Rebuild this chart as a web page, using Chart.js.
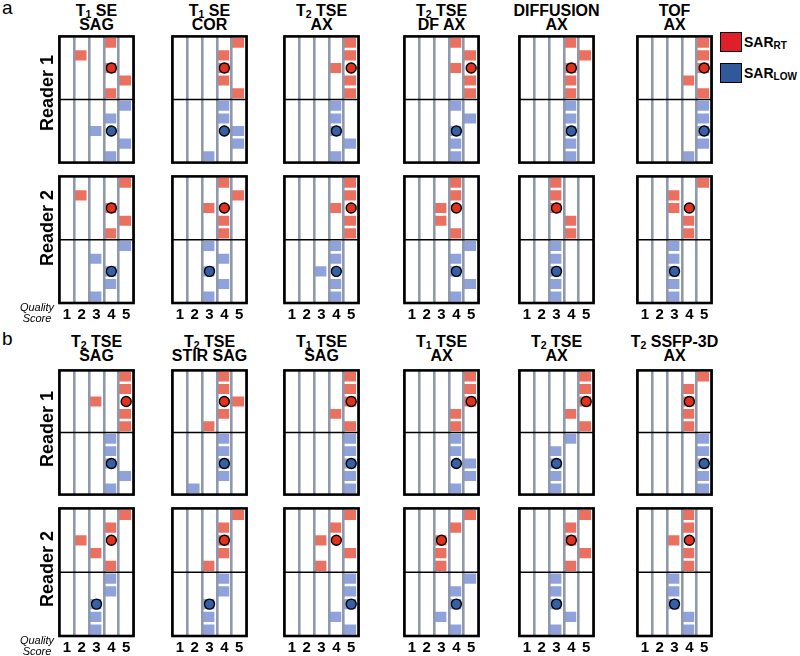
<!DOCTYPE html>
<html><head><meta charset="utf-8">
<script src="https://cdn.jsdelivr.net/npm/chart.js@4.4.1/dist/chart.umd.min.js"></script>
<style>
html,body{margin:0;padding:0;background:#fff}
body{width:800px;height:656px;position:relative;overflow:hidden;font-family:'Liberation Sans',Arial,Helvetica,sans-serif;color:#000}
.abs{position:absolute;white-space:nowrap}
.title{font-weight:bold;font-size:16px;line-height:16px;text-align:center;width:140px}
.sub{font-size:10.5px;position:relative;top:2px}
.reader{font-weight:bold;font-size:18px;line-height:18px;transform:translate(-50%,-50%) rotate(-90deg)}
.qs{font-style:italic;font-size:11px;line-height:11px;text-align:center;width:50px}
.sec{font-size:19px;line-height:19px}
.lbox{position:absolute;box-sizing:border-box;border:1.5px solid #000}
.ltxt{font-weight:bold;font-size:14px;line-height:14px}
canvas{position:absolute}
</style></head>
<body>
<script>
// ---------- data ----------
const scores = [1, 2, 3, 4, 5];
const slotLabels = ['r1','r2','r3','r4','r5','l1','l2','l3','l4','l5'];

// titles: [prefix, subscript, rest of line 1, line 2]
const titlesA = [['T','1',' SE','SAG'],['T','1',' SE','COR'],['T','2',' TSE','AX'],['T','2',' TSE','DF AX'],['','','DIFFUSION','AX'],['','','TOF','AX']];
const titlesB = [['T','2',' TSE','SAG'],['T','2',' TSE','STIR SAG'],['T','1',' TSE','SAG'],['T','1',' TSE','AX'],['T','2',' TSE','AX'],['T','2',' SSFP-3D','AX']];

// quality scores per subject (5 subjects, top to bottom) for each sequence
const aR1Rt  = [[4,2,4,5,4],[5,4,4,4,5],[5,5,4,5,5],[4,5,4,5,5],[4,5,4,4,4],[5,5,5,4,5]];
const aR1Low = [[5,4,3,5,4],[4,4,5,5,3],[4,4,4,5,4],[4,5,4,4,4],[4,4,4,4,4],[5,5,5,5,4]];
const aR2Rt  = [[5,2,4,5,4],[4,5,3,4,4],[5,5,4,5,5],[4,4,3,3,4],[3,3,3,4,4],[5,3,3,4,4]];
const aR2Low = [[5,3,4,4,3],[3,4,3,4,3],[4,4,3,4,4],[5,4,4,5,4],[3,3,3,3,3],[3,3,3,3,3]];
const bR1Rt  = [[5,5,3,5,5],[4,4,5,4,3],[5,5,5,4,5],[5,5,5,4,4],[5,5,5,4,5],[5,4,4,4,4]];
const bR1Low = [[4,4,4,5,4],[4,4,4,4,2],[5,5,5,5,5],[4,4,5,5,4],[4,3,3,3,3],[5,5,5,5,5]];
const bR2Rt  = [[5,4,2,3,4],[5,4,4,4,3],[5,4,3,5,3],[5,4,3,3,3],[5,4,4,5,4],[4,4,3,4,4]];
const bR2Low = [[4,4,3,3,3],[4,4,3,3,3],[5,5,5,4,5],[5,4,4,3,4],[3,3,3,4,3],[3,3,3,4,4]];

// median markers
const aR1RtMed  = [4,4,5,5,4,5];
const aR1LowMed = [4,4,4,4,4,5];
const aR2RtMed  = [4,4,5,4,3,4];
const aR2LowMed = [4,3,4,4,3,3];
const bR1RtMed  = [5,4,5,5,5,4];
const bR1LowMed = [4,4,5,4,3,5];
const bR2RtMed  = [4,4,4,3,4,4];
const bR2LowMed = [3,3,5,4,3,3];

// ---------- style ----------
const RED_BAR = '#EC7060', BLUE_BAR = '#8FA2DB';
const RED_DOT = '#E2311D', BLUE_DOT = '#3660A6';
const GRAY = '#8E99AB';
const FONT = "'Liberation Sans', Arial, sans-serif";

const PANEL_LEFT = [57, 170, 282, 402, 517, 635];
const PANEL_W = 79;
const PAD = 4;

const framePlugin = {
  id: 'frame',
  afterDraw(chart) {
    const {ctx, chartArea: a, scales: {y}} = chart;
    ctx.save();
    ctx.strokeStyle = '#000';
    ctx.lineWidth = 1.5;
    const my = y.getPixelForValue(4.5);
    ctx.beginPath(); ctx.moveTo(a.left, my); ctx.lineTo(a.right, my); ctx.stroke();
    ctx.lineWidth = 2.6;
    ctx.strokeRect(a.left, a.top, a.right - a.left, a.bottom - a.top);
    ctx.restore();
  }
};

function addText(cls, html, left, top, extraStyle) {
  const d = document.createElement('div');
  d.className = 'abs ' + cls;
  d.innerHTML = html;
  d.style.left = left + 'px';
  d.style.top = top + 'px';
  if (extraStyle) d.setAttribute('style', d.getAttribute('style') + ';' + extraStyle);
  document.body.appendChild(d);
  return d;
}

function makePanel(left, top, h, rt, low, rtMed, lowMed, showTicks) {
  const c = document.createElement('canvas');
  const extra = showTicks ? 20 : 0;
  c.width = PANEL_W + 2 * PAD;
  c.height = h + 2 * PAD + extra;
  c.style.left = (left - PAD) + 'px';
  c.style.top = (top - PAD) + 'px';
  document.body.appendChild(c);
  const redBars = slotLabels.map((s, i) => i < 5 ? [rt[i] - 0.5, rt[i] + 0.33] : null);
  const blueBars = slotLabels.map((s, i) => i >= 5 ? [low[i - 5] - 0.5, low[i - 5] + 0.33] : null);
  new Chart(c, {
    type: 'bar',
    data: {
      labels: slotLabels,
      datasets: [
        {type: 'scatter', data: [{x: rtMed, y: 'r3'}], pointRadius: 5, pointBackgroundColor: RED_DOT, pointBorderColor: '#000', pointBorderWidth: 1.4, order: 0},
        {type: 'scatter', data: [{x: lowMed, y: 'l3'}], pointRadius: 5, pointBackgroundColor: BLUE_DOT, pointBorderColor: '#000', pointBorderWidth: 1.4, order: 0},
        {label: 'SAR RT', data: redBars, backgroundColor: RED_BAR, borderWidth: 0, grouped: false, barPercentage: 0.8, categoryPercentage: 1, order: 2},
        {label: 'SAR LOW', data: blueBars, backgroundColor: BLUE_BAR, borderWidth: 0, grouped: false, barPercentage: 0.8, categoryPercentage: 1, order: 2}
      ]
    },
    options: {
      indexAxis: 'y',
      responsive: false,
      animation: false,
      devicePixelRatio: 1,
      layout: {padding: {left: PAD, right: PAD, top: PAD, bottom: PAD}},
      plugins: {legend: {display: false}, tooltip: {enabled: false}},
      scales: {
        x: {
          type: 'linear', min: 0.5, max: 5.5, offset: false,
          afterBuildTicks: s => { s.ticks = scores.map(v => ({value: v})); },
          afterFit: s => { s.height = showTicks ? 20 : 0; },
          grid: {offset: true, color: GRAY, lineWidth: 2.6, drawTicks: false, z: 1},
          border: {display: false},
          ticks: {display: showTicks, padding: 3, color: '#000', autoSkip: false, maxRotation: 0,
                  font: {size: 15, weight: 'bold', family: FONT}}
        },
        y: {type: 'category', labels: slotLabels, offset: true, display: false}
      }
    },
    plugins: [framePlugin]
  });
}

function titleHTML(t) {
  const l1 = (t[0] ? t[0] + '<span class="sub">' + t[1] + '</span>' : '') + t[2];
  return [l1, t[3]];
}

function section(titles, rows, titleY, tickRowIdx) {
  titles.forEach((t, i) => {
    const [l1, l2] = titleHTML(t);
    const cx = PANEL_LEFT[i] + PANEL_W / 2;
    addText('title', l1, cx - 70, titleY[0] - 8);
    addText('title', l2, cx - 70, titleY[1] - 8);
  });
  rows.forEach((r, ri) => {
    for (let i = 0; i < 6; i++) {
      makePanel(PANEL_LEFT[i], r.top, r.h, r.rt[i], r.low[i], r.rtMed[i], r.lowMed[i], ri === tickRowIdx);
    }
    addText('reader', r.name, 46.5, r.labelY);
  });
}

// Section a
addText('sec', 'a', 2, -2);
section(titlesA, [
  {name: 'Reader 1', top: 34, h: 131, rt: aR1Rt, low: aR1Low, rtMed: aR1RtMed, lowMed: aR1LowMed, labelY: 92.5},
  {name: 'Reader 2', top: 174, h: 129, rt: aR2Rt, low: aR2Low, rtMed: aR2RtMed, lowMed: aR2LowMed, labelY: 227.5}
], [10.5, 25], 1);
addText('qs', 'Quality<br>Score', 12, 302);

// Section b
addText('sec', 'b', 2, 329);
section(titlesB, [
  {name: 'Reader 1', top: 368, h: 129, rt: bR1Rt, low: bR1Low, rtMed: bR1RtMed, lowMed: bR1LowMed, labelY: 429},
  {name: 'Reader 2', top: 506, h: 130, rt: bR2Rt, low: bR2Low, rtMed: bR2RtMed, lowMed: bR2LowMed, labelY: 569}
], [341.7, 356], 1);
addText('qs', 'Quality<br>Score', 12, 635);

// Legend
const lb1 = document.createElement('div'); lb1.className = 'lbox';
lb1.style.cssText = 'left:720px;top:32px;width:22px;height:20px;background:#E11F2B';
document.body.appendChild(lb1);
const lb2 = document.createElement('div'); lb2.className = 'lbox';
lb2.style.cssText = 'left:720px;top:63px;width:22px;height:20px;background:#32589C';
document.body.appendChild(lb2);
addText('ltxt', 'SAR<span class="sub" style="font-size:10px">RT</span>', 744, 35);
addText('ltxt', 'SAR<span class="sub" style="font-size:10px">LOW</span>', 744, 66);
</script>
</body></html>
